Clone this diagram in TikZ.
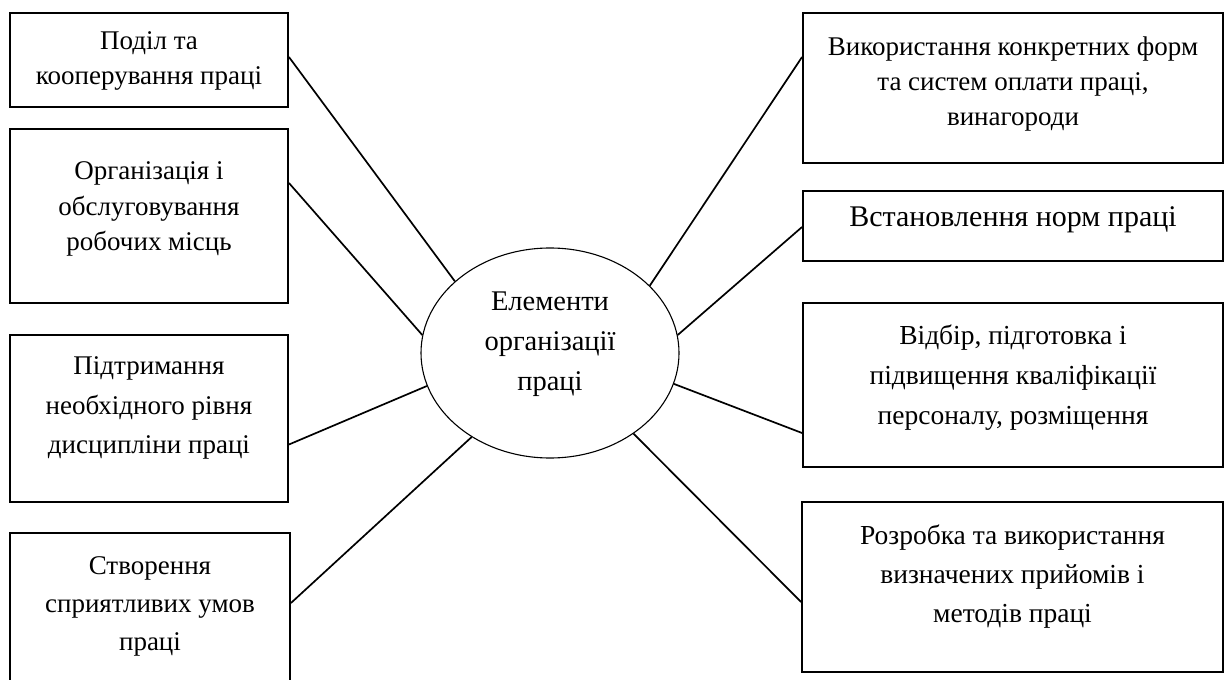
\documentclass[tikz,border=0pt]{standalone}
\usepackage{fontspec}
\setmainfont{Liberation Serif}
\usetikzlibrary{shapes.geometric}
\begin{document}
\begin{tikzpicture}[x=1pt,y=-1pt,
  box/.style={draw,line width=1.9pt,rectangle,inner sep=0pt},
  txt/.style={align=center,inner sep=0pt,font=\fontsize{27}{37}\selectfont},
  conn/.style={line width=1.7pt}]
\useasboundingbox (0,0) rectangle (1227,680);
\clip (0,0) rectangle (1227,680);
% left boxes
\node[box,minimum width=278pt,minimum height=94pt] (L1) at (149,60) {};
\node[txt,font=\fontsize{27}{35}\selectfont] (t1) at (149,61) {Поділ та\\кооперування праці};
\node[box,minimum width=278pt,minimum height=174pt] (L2) at (149,216) {};
\node[txt,font=\fontsize{27}{35.5}\selectfont] (t2) at (149,209) {Організація і\\обслуговування\\робочих місць};
\node[box,minimum width=278pt,minimum height=167pt] (L3) at (149,418.5) {};
\node[txt,font=\fontsize{27}{39.5}\selectfont] (t3) at (149,408) {Підтримання\\необхідного рівня\\дисципліни праці};
\node[box,minimum width=280pt,minimum height=180pt] (L4) at (150,623) {};
\node[txt,font=\fontsize{27}{38}\selectfont] (t4) at (150,606) {Створення\\сприятливих умов\\праці};
% right boxes
\node[box,minimum width=420pt,minimum height=150pt] (R1) at (1013,88) {};
\node[txt,font=\fontsize{27}{35}\selectfont] (s1) at (1013,84) {Використання конкретних форм\\та систем оплати праці,\\винагороди};
\node[box,minimum width=420pt,minimum height=70pt] (R2) at (1013,226) {};
\node[txt,font=\fontsize{30}{37}\selectfont] (s2) at (1013,220) {Встановлення норм праці};
\node[box,minimum width=420pt,minimum height=164pt] (R3) at (1013,385) {};
\node[txt,font=\fontsize{27.5}{40}\selectfont] (s3) at (1013,378) {Відбір, підготовка і\\підвищення кваліфікації\\персоналу, розміщення};
\node[box,minimum width=421pt,minimum height=170pt] (R4) at (1012.5,587) {};
\node[txt,font=\fontsize{27.5}{39}\selectfont] (s4) at (1012.5,577) {Розробка та використання\\визначених прийомів і\\методів праці};
% ellipse
\node[ellipse,draw,line width=1.1pt,minimum width=258pt,minimum height=210pt,inner sep=0pt] (E) at (550,353) {};
\node[txt,font=\fontsize{28.5}{40}\selectfont] (te) at (550,344) {Елементи\\організації\\праці};
% connectors
\draw[conn] ([yshift=3pt]L1.east) -- (E.143);
\draw[conn] ([yshift=33pt]L2.east) -- (E.172);
\draw[conn] ([yshift=-26pt]L3.east) -- (E.195);
\draw[conn] ([yshift=20pt]L4.east) -- (E.227);
\draw[conn] ([yshift=31pt]R1.west) -- (E.34);
\draw[conn] ([yshift=-1pt]R2.west) -- (E.8);
\draw[conn] ([yshift=-48pt]R3.west) -- (E.-14.5);
\draw[conn] ([yshift=-15pt]R4.west) -- (E.-44);
\end{tikzpicture}
\end{document}
